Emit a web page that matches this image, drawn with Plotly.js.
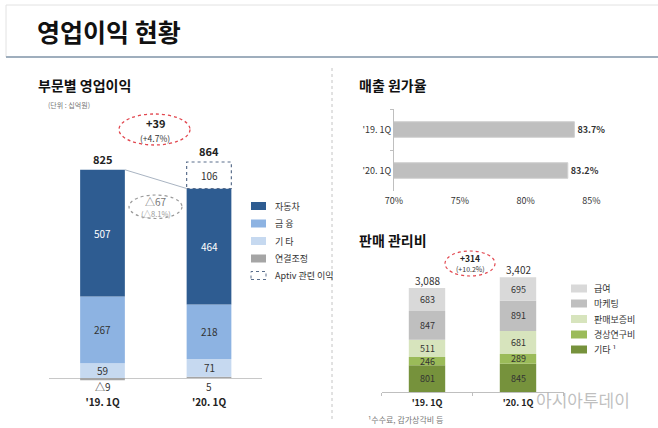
<!DOCTYPE html>
<html>
<head>
<meta charset="utf-8">
<script src="https://cdn.plot.ly/plotly-3.0.1.min.js"></script>
<style>
  html, body { margin: 0; padding: 0; background: #fff; }
  #chart { width: 658px; height: 428px; }
</style>
</head>
<body>
<div id="chart"></div>
<script>
// ---- data -------------------------------------------------------------
const quarters = ["'19. 1Q", "'20. 1Q"];

// 부문별 영업이익 (십억원)
const autoOp = [507, 464];
const financeOp = [267, 218];
const otherOp = [59, 71];
const consolidationAdj = [-9, 5];
const aptivOp = [0, 106];
const opTotals = [825, 864];
const opChange = ['+39', '(+4.7%)'];
const autoChange = ['△67', '(△8.1%)'];

// 매출 원가율 (%)
const costRatio = [83.7, 83.2];
const costTicks = [70, 75, 80, 85];

// 판매 관리비 (십억원)
const sgaOther = [801, 845];
const sgaResearch = [246, 289];
const sgaWarranty = [511, 681];
const sgaMarketing = [847, 891];
const sgaSalary = [683, 695];
const sgaTotals = [3088, 3402];
const sgaChange = ['+314', '(+10.2%)'];

// ---- helpers ----------------------------------------------------------
const W = 658, H = 428;
const fx = p => p / W;
const fy = p => 1 - p / H;
const FONT = '"Noto Sans CJK KR", "Noto Sans", sans-serif';
const fmt = v => (v < 0 ? '△' + Math.abs(v) : v.toLocaleString('en-US'));

const traces = [];
const annotations = [];
const shapes = [];

function note(text, x, y, opts) {
  annotations.push(Object.assign({
    text: text, x: x, y: y, xref: 'paper', yref: 'paper',
    showarrow: false, xanchor: 'center', yanchor: 'middle',
    font: { family: FONT, size: 9, color: '#333' }
  }, opts || {}));
}
function px(text, x, y, opts) { note(text, fx(x), fy(y), opts); }

// ---- panel 1: 부문별 영업이익 -----------------------------------------
// stacking order, bottom to top
const opSegments = [
  { name: '연결조정', values: consolidationAdj, color: '#A5A5A5', text: '#333', below: true },
  { name: '기 타', values: otherOp, color: '#C6D9F0', text: '#333' },
  { name: '금 융', values: financeOp, color: '#8DB3E2', text: '#333' },
  { name: '자동차', values: autoOp, color: '#2E5C91', text: '#fff' },
  { name: 'Aptiv 관련 이익', values: aptivOp, color: '#FFFFFF', text: '#333', dashed: true }
];
const opLegendOrder = ['자동차', '금 융', '기 타', '연결조정', 'Aptiv 관련 이익'];
const opWidth = 0.42;
const opX = quarters.map((q, i) => i);

opSegments.forEach(seg => {
  traces.push({
    type: 'bar', x: opX, y: seg.values, width: opWidth, name: seg.name,
    marker: { color: seg.color, line: { width: 0 } },
    xaxis: 'x', yaxis: 'y', hoverinfo: 'skip'
  });
});

const autoTop = [];
quarters.forEach((q, i) => {
  let base = 0;
  opSegments.forEach(seg => {
    const v = seg.values[i];
    if (seg.below) {
      // consolidation adjustment is labelled just under the baseline
      annotations.push({
        text: fmt(v), x: i, y: 0, xref: 'x', yref: 'y',
        yanchor: 'top', showarrow: false, yshift: 1,
        font: { family: FONT, size: 10, color: '#333' }
      });
      if (v > 0) base += v;
      return;
    }
    if (v <= 0) return;
    if (seg.dashed) {
      shapes.push({
        type: 'rect', xref: 'x', yref: 'y',
        x0: i - opWidth / 2, x1: i + opWidth / 2, y0: base, y1: base + v,
        line: { color: '#5A6E8C', width: 1.2, dash: 'dot' }
      });
    }
    annotations.push({
      text: fmt(v), x: i, y: base + v / 2, xref: 'x', yref: 'y',
      showarrow: false, font: { family: FONT, size: 10, color: seg.text }
    });
    base += v;
    if (seg.name === '자동차') autoTop.push(base);
  });
  annotations.push({
    text: '<b>' + fmt(opTotals[i]) + '</b>', x: i, y: base, xref: 'x', yref: 'y',
    yanchor: 'bottom', yshift: 1, showarrow: false,
    font: { family: FONT, size: 11, color: '#222' }
  });
});

// connector between the 자동차 segments
shapes.push({
  type: 'line', xref: 'x', yref: 'y',
  x0: opWidth / 2, y0: autoTop[0], x1: 1 - opWidth / 2, y1: autoTop[1],
  line: { color: '#A9B4C2', width: 1 }
});

// ---- panel 2: 매출 원가율 ---------------------------------------------
traces.push({
  type: 'bar', orientation: 'h', x: costRatio, y: quarters, width: 0.38,
  marker: { color: '#BFBFBF', line: { color: '#D0D0D0', width: 1 } },
  text: costRatio.map(v => v.toFixed(1) + '%'), textposition: 'outside',
  textfont: { family: FONT, size: 9, color: '#333', weight: 'bold' },
  cliponaxis: false, xaxis: 'x2', yaxis: 'y2', hoverinfo: 'skip'
});

// ---- panel 3: 판매 관리비 ---------------------------------------------
const sgaSegments = [
  { name: '기타', values: sgaOther, color: '#76923C' },
  { name: '경상연구비', values: sgaResearch, color: '#9BBB59' },
  { name: '판매보증비', values: sgaWarranty, color: '#D7E4BD' },
  { name: '마케팅', values: sgaMarketing, color: '#BFBFBF' },
  { name: '급여', values: sgaSalary, color: '#D9D9D9' }
];
const sgaWidth = 0.4;
sgaSegments.forEach(seg => {
  traces.push({
    type: 'bar', x: quarters, y: seg.values, width: sgaWidth, name: seg.name,
    marker: { color: seg.color, line: { width: 0 } },
    xaxis: 'x3', yaxis: 'y3', hoverinfo: 'skip'
  });
});
quarters.forEach((q, i) => {
  let base = 0;
  sgaSegments.forEach(seg => {
    const v = seg.values[i];
    annotations.push({
      text: fmt(v), x: q, y: base + v / 2, xref: 'x3', yref: 'y3',
      showarrow: false, font: { family: FONT, size: 9, color: '#333' }
    });
    base += v;
  });
  annotations.push({
    text: fmt(sgaTotals[i]), x: q, y: base, xref: 'x3', yref: 'y3',
    yanchor: 'bottom', yshift: -2, showarrow: false,
    font: { family: FONT, size: 10, color: '#333' }
  });
});

// ---- headings, legends, callouts --------------------------------------
px('<b>영업이익 현황</b>', 35, 31, { xanchor: 'left', font: { family: FONT, size: 25, color: '#111' } });
px('<b>부문별 영업이익</b>', 36, 85, { xanchor: 'left', font: { family: FONT, size: 14, color: '#111' } });
px('(단위 : 십억원)', 46, 105, { xanchor: 'left', font: { family: FONT, size: 7, color: '#777' } });
px('<b>매출 원가율</b>', 357, 85, { xanchor: 'left', font: { family: FONT, size: 14, color: '#111' } });
px('<b>판매 관리비</b>', 357, 240, { xanchor: 'left', font: { family: FONT, size: 14, color: '#111' } });
px('¹수수료, 감가상각비 등', 366, 419, { xanchor: 'left', font: { family: FONT, size: 8, color: '#777' } });
px('아시아투데이', 583, 399, { font: { family: FONT, size: 17, color: 'rgba(170,170,170,0.75)' } });

// legend for 부문별 영업이익
const leg1Y = [206, 223.5, 241, 258.5, 275.5];
opLegendOrder.forEach((name, k) => {
  const seg = opSegments.find(s => s.name === name);
  const y = leg1Y[k];
  shapes.push({
    type: 'rect', xref: 'paper', yref: 'paper',
    x0: fx(251), x1: fx(266), y0: fy(y + 4), y1: fy(y - 4),
    fillcolor: seg.dashed ? '#FFFFFF' : seg.color,
    line: seg.dashed ? { color: '#5A6E8C', width: 1, dash: 'dot' } : { width: 0 }
  });
  px(seg.name, 273, y, { xanchor: 'left', font: { family: FONT, size: 9, color: '#333' } });
});

// legend for 판매 관리비
const leg3Y = [288.5, 303.5, 319, 334.5, 349.5];
[...sgaSegments].reverse().forEach((seg, k) => {
  const y = leg3Y[k];
  shapes.push({
    type: 'rect', xref: 'paper', yref: 'paper',
    x0: fx(571), x1: fx(587), y0: fy(y + 4), y1: fy(y - 4),
    fillcolor: seg.color, line: { width: 0 }
  });
  const label = seg.name === '기타' ? '기타 ¹' : seg.name;
  px(label, 592, y, { xanchor: 'left', font: { family: FONT, size: 9, color: '#333' } });
});

// callout ellipses
shapes.push({ type: 'circle', xref: 'paper', yref: 'paper',
  x0: fx(119), x1: fx(190), y0: fy(145), y1: fy(114),
  line: { color: '#E2474F', width: 1.3, dash: 'dot' } });
px('<b>' + opChange[0] + '</b>', 155, 123, { borderpad: 0, font: { family: FONT, size: 11, color: '#222' } });
px(opChange[1], 155, 137.5, { borderpad: 0, font: { family: FONT, size: 8.5, color: '#333' } });

shapes.push({ type: 'circle', xref: 'paper', yref: 'paper',
  x0: fx(129), x1: fx(182), y0: fy(218.5), y1: fy(195),
  line: { color: '#9A9A9A', width: 1.2, dash: 'dot' } });
px(autoChange[0], 156, 201, { borderpad: 0, font: { family: FONT, size: 10, color: '#777' } });
px(autoChange[1], 156, 213.5, { borderpad: 0, font: { family: FONT, size: 7.5, color: '#999' } });

shapes.push({ type: 'circle', xref: 'paper', yref: 'paper',
  x0: fx(445), x1: fx(495), y0: fy(276), y1: fy(251),
  line: { color: '#E2474F', width: 1.2, dash: 'dot' } });
px('<b>' + sgaChange[0] + '</b>', 470, 258, { borderpad: 0, font: { family: FONT, size: 8.5, color: '#222' } });
px(sgaChange[1], 470, 268.5, { borderpad: 0, font: { family: FONT, size: 7, color: '#333' } });

// page frame
shapes.push({ type: 'line', xref: 'paper', yref: 'paper', x0: fx(6), x1: 1, y0: fy(5), y1: fy(5),
  line: { color: '#E2E2E2', width: 1 } });
shapes.push({ type: 'line', xref: 'paper', yref: 'paper', x0: fx(6), x1: fx(6), y0: fy(5), y1: fy(57),
  line: { color: '#E2E2E2', width: 1 } });
shapes.push({ type: 'line', xref: 'paper', yref: 'paper', x0: fx(6), x1: 1, y0: fy(57), y1: fy(57),
  line: { color: '#9FAEBD', width: 2 } });
shapes.push({ type: 'line', xref: 'paper', yref: 'paper', x0: fx(332), x1: fx(332), y0: fy(68), y1: fy(422),
  line: { color: '#C4C4C4', width: 1, dash: 'dot' } });

// ---- layout -----------------------------------------------------------
const layout = {
  width: W, height: H,
  margin: { l: 0, r: 0, t: 0, b: 0 },
  paper_bgcolor: '#fff', plot_bgcolor: '#fff',
  barmode: 'relative', showlegend: false,
  font: { family: FONT, size: 9, color: '#333' },
  xaxis: {
    domain: [fx(49.25), fx(262.25)], range: [-0.5, 1.5],
    tickmode: 'array', tickvals: opX, ticktext: quarters.map(q => '<b>' + q + '</b>'),
    tickfont: { family: FONT, size: 10, color: '#222' }, ticklabelstandoff: 5,
    showgrid: false, zeroline: false, showline: false, ticks: '', anchor: 'y'
  },
  yaxis: {
    domain: [fy(390), fy(140)], range: [-48, 952],
    showgrid: false, showticklabels: false, showline: false, ticks: '',
    zeroline: true, zerolinecolor: '#C8C8C8', zerolinewidth: 1, anchor: 'x'
  },
  xaxis2: {
    domain: [fx(394), fx(591.5)], range: [70, 85],
    tickmode: 'array', tickvals: costTicks, ticktext: costTicks.map(t => t + '%'),
    tickfont: { family: FONT, size: 9, color: '#333' }, ticklabelstandoff: 3,
    showgrid: false, zeroline: false, showline: false, ticks: '', anchor: 'y2'
  },
  yaxis2: {
    domain: [fy(191), fy(109)], type: 'category', categoryarray: quarters,
    range: [1.5, -0.5],
    tickfont: { family: FONT, size: 9, color: '#333' },
    showgrid: false, zeroline: false, showline: true, linecolor: '#BFBFBF',
    ticks: 'outside', ticklen: 3, tickcolor: '#BFBFBF', tickson: 'boundaries', anchor: 'x2'
  },
  xaxis3: {
    domain: [fx(381.5), fx(563.5)], type: 'category', categoryarray: quarters,
    range: [-0.5, 1.5],
    tickfont: { family: FONT, size: 9, color: '#222', weight: 'bold' }, ticklabelstandoff: 2,
    showgrid: false, zeroline: false, showline: true, linecolor: '#BFBFBF',
    ticks: 'outside', ticklen: 3, tickcolor: '#BFBFBF', tickson: 'boundaries', anchor: 'y3'
  },
  yaxis3: {
    domain: [fy(392.3), fy(262)], range: [0, 3855],
    visible: false, anchor: 'x3'
  },
  annotations: annotations,
  shapes: shapes
};

Plotly.newPlot('chart', traces, layout, { staticPlot: true, displayModeBar: false });
</script>
</body>
</html>
